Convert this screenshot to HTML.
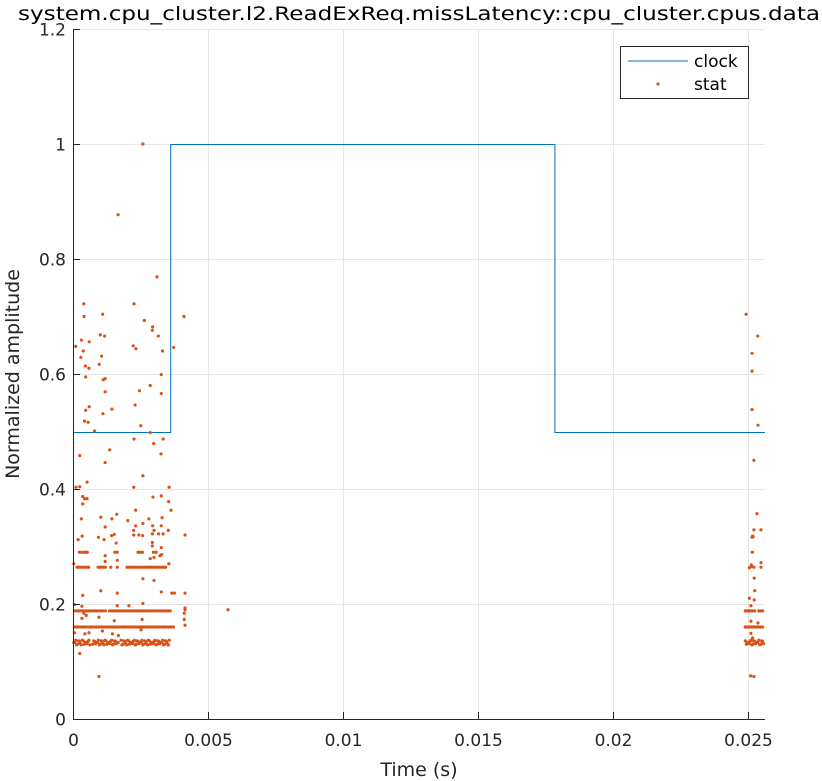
<!DOCTYPE html>
<html><head><meta charset="utf-8"><style>
html,body{margin:0;padding:0;background:#fff;}
svg{display:block;font-family:"DejaVu Sans","Liberation Sans",sans-serif;}
</style></head><body>
<svg id="chart" width="822" height="781" viewBox="0 0 822 781" xmlns="http://www.w3.org/2000/svg">
<rect width="822" height="781" fill="#fff"/>
<g id="grid"></g>
<g id="series"></g>
<g id="axes"></g>
<text x="419" y="20" text-anchor="middle" font-size="19" fill="#000" textLength="802" lengthAdjust="spacingAndGlyphs">system.cpu_cluster.l2.ReadExReq.missLatency::cpu_cluster.cpus.data</text>
<text x="419" y="776" text-anchor="middle" font-size="19" fill="#262626">Time (s)</text>
<text transform="translate(19,374) rotate(-90)" text-anchor="middle" font-size="19" fill="#262626">Normalized amplitude</text>
<g>
<rect x="620.5" y="46.5" width="128" height="52" fill="#fff" stroke="#262626" stroke-width="1"/>
<line x1="628" y1="61" x2="688" y2="61" stroke="#0072BD" stroke-width="1"/>
<text x="694" y="67" font-size="17" fill="#000">clock</text>
<circle cx="658" cy="84" r="1.6" fill="#D95319"/>
<text x="694" y="90" font-size="17" fill="#000">stat</text>
</g>
</svg>
<script>
// data (time in ms, values normalized)
const clockTimesMs = [0, 3.62, 3.62, 17.85, 17.85, 25.63];
const clockValues = [0.5, 0.5, 1.0, 1.0, 0.5, 0.5];
const scatterPts = [
[0.40,0.722],[2.26,0.722],[0.41,0.70],[1.10,0.704],[4.11,0.70],[2.64,0.693],[2.95,0.682],[2.94,0.676],[1.01,0.668],[1.17,0.666],[3.16,0.666],[0.31,0.659],[0.60,0.656],[0.10,0.648],[2.23,0.649],[2.33,0.644],[3.32,0.640],[3.73,0.646],[0.38,0.640],[0.29,0.629],[1.06,0.631],[0.97,0.617],[0.46,0.614],[0.59,0.610],[3.27,0.599],[0.47,0.595],[1.12,0.590],[1.19,0.592],[2.86,0.580],[2.46,0.571],[1.19,0.569],[3.27,0.566],[2.30,0.546],[1.44,0.539],[0.60,0.543],[0.47,0.537],[1.11,0.531],[0.43,0.518],[0.56,0.516],[2.51,0.510],[0.80,0.501],[2.86,0.498],[2.26,0.487],[3.34,0.487],[2.99,0.479],[0.25,0.458],[1.36,0.468],[3.26,0.461],[1.19,0.446],[2.59,0.423],[0.52,0.412],[0.11,0.403],[0.25,0.404],[2.25,0.403],[3.56,0.403],[0.36,0.387],[0.43,0.383],[0.52,0.383],[0.36,0.374],[2.96,0.386],[3.27,0.388],[3.54,0.378],[2.32,0.363],[3.63,0.363],[0.31,0.348],[1.03,0.351],[1.44,0.348],[1.62,0.356],[2.03,0.345],[2.81,0.348],[3.30,0.350],[2.59,0.340],[1.19,0.334],[2.32,0.336],[2.95,0.336],[3.27,0.336],[2.25,0.328],[3.00,0.328],[3.53,0.328],[0.19,0.312],[0.34,0.318],[0.94,0.316],[1.15,0.312],[1.43,0.319],[1.53,0.321],[2.25,0.320],[2.44,0.320],[2.58,0.319],[2.94,0.322],[3.17,0.322],[3.34,0.322],[4.15,0.320],[1.60,0.306],[2.94,0.307],[2.94,0.301],[3.27,0.298],
[1.67,0.877],[2.59,1.0],[3.11,0.769],[5.74,0.19],
[0.24,0.290],[0.31,0.290],[0.41,0.290],[0.47,0.290],[0.53,0.290],[1.55,0.290],[1.64,0.290],[2.41,0.290],[2.48,0.290],[2.57,0.290],[2.98,0.290],[3.08,0.290],
[1.19,0.284],[3.28,0.286],[3.22,0.284],[2.86,0.279],[3.00,0.281],[1.64,0.276],[1.19,0.274],[0.03,0.270],[3.55,0.270],
[2.59,0.244],[3.00,0.241],[0.36,0.215],[1.03,0.223],[1.64,0.219],[3.27,0.221],[3.66,0.219],[3.76,0.219],[4.15,0.219],
[0.05,0.199],[2.59,0.201],[1.64,0.197],[2.07,0.197],[0.33,0.196],
[4.15,0.193],[4.15,0.190],[4.12,0.184],[4.12,0.173],[4.15,0.163],
[0.40,0.184],[0.49,0.180],[0.96,0.177],[0.33,0.175],[1.53,0.171],[2.56,0.173],
[0.05,0.150],[0.44,0.148],[0.59,0.150],[1.09,0.153],[1.46,0.148],[1.68,0.145],[2.52,0.155],
[0.25,0.114],[0.96,0.074],
[24.93,0.704],[25.36,0.666],[25.15,0.636],[25.15,0.605],[25.15,0.538],[25.37,0.511],[25.22,0.450],[25.33,0.357],[25.22,0.329],[25.48,0.329],[25.17,0.318],[25.19,0.317],[25.15,0.316],[25.16,0.290],[25.48,0.272],[25.12,0.268],[25.05,0.263],[25.22,0.264],[25.15,0.265],[25.48,0.264],[25.23,0.245],[25.25,0.223],[25.05,0.210],[25.23,0.207],[25.11,0.197],[25.11,0.170],[25.37,0.167],[25.11,0.149],[25.17,0.141],[25.10,0.075],[25.22,0.074]
];
const band264Ms = [0.15,0.22,0.28,0.35,0.42,0.50,0.58,0.93,1.00,1.06,1.13,1.20,1.40,1.64,2.00,2.08,2.15,2.22,2.30,2.37,2.45,2.52,2.60,2.68,2.75,2.83,2.90,2.98,3.05,3.13,3.20,3.28,3.35,3.43];
const band188Ms = [0.05,0.14,0.22,0.31,0.40,0.49,0.57,0.66,0.75,0.84,0.92,1.01,1.10,1.20,1.35,1.45,1.54,1.63,1.72,1.81,1.90,1.99,2.08,2.17,2.26,2.35,2.44,2.53,2.62,2.71,2.80,2.89,2.98,3.07,3.16,3.25,3.34,3.43,3.52,3.60,24.90,24.97,25.04,25.11,25.18,25.25,25.40,25.47,25.54];
const band160Ms = [0.05,0.13,0.21,0.30,0.38,0.46,0.55,0.63,0.71,0.80,0.88,0.96,1.05,1.13,1.21,1.30,1.38,1.46,1.55,1.63,1.71,1.80,1.88,1.96,2.05,2.13,2.21,2.30,2.38,2.46,2.55,2.63,2.71,2.80,2.88,2.96,3.05,3.13,3.21,3.30,3.38,3.46,3.55,3.63,3.72,24.90,24.97,25.04,25.11,25.18,25.25,25.32,25.40,25.47,25.54];
const band133Ms = [0.03,0.10,0.17,0.24,0.31,0.38,0.45,0.52,0.59,0.73,0.80,0.87,0.94,1.01,1.08,1.15,1.22,1.29,1.36,1.43,1.50,1.57,1.64,1.78,1.85,1.92,1.99,2.06,2.13,2.20,2.27,2.34,2.41,2.48,2.55,2.62,2.69,2.76,2.83,2.90,2.97,3.04,3.11,3.18,3.25,3.32,3.39,3.46,3.53,24.90,24.97,25.04,25.11,25.18,25.25,25.32,25.40,25.47,25.54];
const band133Offsets = [0.0,0.004,-0.003,0.002,-0.004,0.003,0.0,-0.002,0.004,-0.003,0.002];
const xTickVals = [0,0.005,0.01,0.015,0.02,0.025];
const xTickLabels = ["0","0.005","0.01","0.015","0.02","0.025"];
const yTickVals = [0,0.2,0.4,0.6,0.8,1,1.2];
const yTickLabels = ["0","0.2","0.4","0.6","0.8","1","1.2"];

const NS="http://www.w3.org/2000/svg";
const L=73,R=765,T=29,B=719;
const xMax=0.02563;
const xs=v=>L+(v/xMax)*(R-L);
const ys=v=>B-(v/1.2)*(B-T);
const grid=document.getElementById('grid'),ser=document.getElementById('series'),ax=document.getElementById('axes');
function mk(tag,attrs,parent){const e=document.createElementNS(NS,tag);for(const k in attrs)e.setAttribute(k,attrs[k]);parent.appendChild(e);return e;}
xTickVals.forEach((v,i)=>{
  const x=Math.round(xs(v))+0.5;
  const g=mk('line',{x1:x,y1:T,x2:x,y2:B,stroke:'#e6e6e6','stroke-width':1},grid);
  
  
  const t=mk('line',{x1:x,y1:B,x2:x,y2:B-7,stroke:'#262626','stroke-width':1},ax);
  
  
  const lb=mk('text',{x:x,y:B+27,'text-anchor':'middle','font-size':17,fill:'#262626'},ax);
  lb.textContent=xTickLabels[i];
  
  
});
yTickVals.forEach((v,i)=>{
  const y=Math.round(ys(v))+0.5;
  const g=mk('line',{x1:L,y1:y,x2:R,y2:y,stroke:'#e6e6e6','stroke-width':1},grid);
  
  
  const t=mk('line',{x1:L,y1:y,x2:L+7,y2:y,stroke:'#262626','stroke-width':1},ax);
  
  
  const lb=mk('text',{x:L-7,y:y+6,'text-anchor':'end','font-size':17,fill:'#262626'},ax);
  lb.textContent=yTickLabels[i];
  
  
});
const xa=mk('line',{x1:L,y1:B+0.5,x2:R,y2:B+0.5,stroke:'#262626','stroke-width':1},ax);


const ya=mk('line',{x1:L+0.5,y1:T,x2:L+0.5,y2:B,stroke:'#262626','stroke-width':1},ax);



// clock line
const pts=clockTimesMs.map((t,i)=>xs(t/1000).toFixed(1)+','+(Math.round(ys(clockValues[i]))+0.5)).join(' ');
const cl=mk('polyline',{points:pts,fill:'none',stroke:'#0072BD','stroke-width':1},ser);



function dot(ms,v){
  const c=mk('circle',{cx:xs(ms/1000).toFixed(2),cy:ys(v).toFixed(2),r:1.6,fill:'#D95319'},ser);
  
  
}
band264Ms.forEach(m=>dot(m,0.264));
band188Ms.forEach(m=>dot(m,0.188));
band160Ms.forEach(m=>dot(m,0.160));
band133Ms.forEach((m,i)=>dot(m,0.133+band133Offsets[i%band133Offsets.length]));
band133Ms.forEach((m,i)=>dot(m+0.035,0.133-band133Offsets[i%band133Offsets.length]));
scatterPts.forEach(p=>dot(p[0],p[1]));
</script>
</body></html>
